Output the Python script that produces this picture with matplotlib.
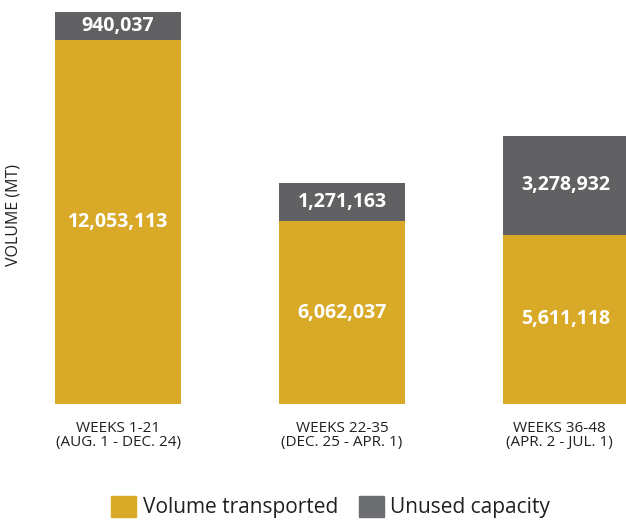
import matplotlib
matplotlib.use('Agg')
import matplotlib.pyplot as plt
from matplotlib.patches import Patch

plt.rcParams['font.family'] = ['Open Sans', 'DejaVu Sans']

categories = ['WEEKS 1-21\n(AUG. 1 - DEC. 24)',
              'WEEKS 22-35\n(DEC. 25 - APR. 1)',
              'WEEKS 36-48\n(APR. 2 - JUL. 1)']
transported = [12053113, 6062037, 5611118]
unused = [940037, 1271163, 3278932]

gold = '#D9AA28'
gray = '#616163'

fig = plt.figure(figsize=(6.26, 5.21), dpi=100)
ax = fig.add_axes([0, 0.2246, 1, 0.7754])

x = list(range(len(categories)))
width = 0.5625
ax.bar(x, transported, width, color=gold, linewidth=0)
ax.bar(x, unused, width, bottom=transported, color=gray, linewidth=0)

for i in x:
    ax.text(i, transported[i] / 2, f'{transported[i]:,}', ha='center', va='center',
            color='white', fontsize=14, fontweight='bold')
    ax.text(i, transported[i] + unused[i] / 2, f'{unused[i]:,}', ha='center', va='center',
            color='white', fontsize=14, fontweight='bold')

ax.set_xlim(-0.527, 2.268)
ax.set_ylim(0, 13.39e6)
ax.axis('off')

# category labels under the bars
for i in x:
    ax.text(i - (0.03 if i == 2 else 0), -0.55e6, categories[i], ha='center', va='top',
            fontsize=11, color='#231F20', linespacing=0.95)

fig.text(0.022, 0.588, 'VOLUME (MT)', rotation=90, ha='center', va='center',
         fontsize=11.5, color='#231F20')

handles = [Patch(color=gold, label='Volume transported'),
           Patch(color='#6D6E71', label='Unused capacity')]
fig.legend(handles=handles, loc='center', bbox_to_anchor=(0.528, 0.027), ncol=2,
           frameon=False, fontsize=15, handlelength=1.2, handleheight=1.2,
           handletextpad=0.3, columnspacing=1.0, labelcolor='#231F20')

plt.savefig('out.png', dpi=100)
